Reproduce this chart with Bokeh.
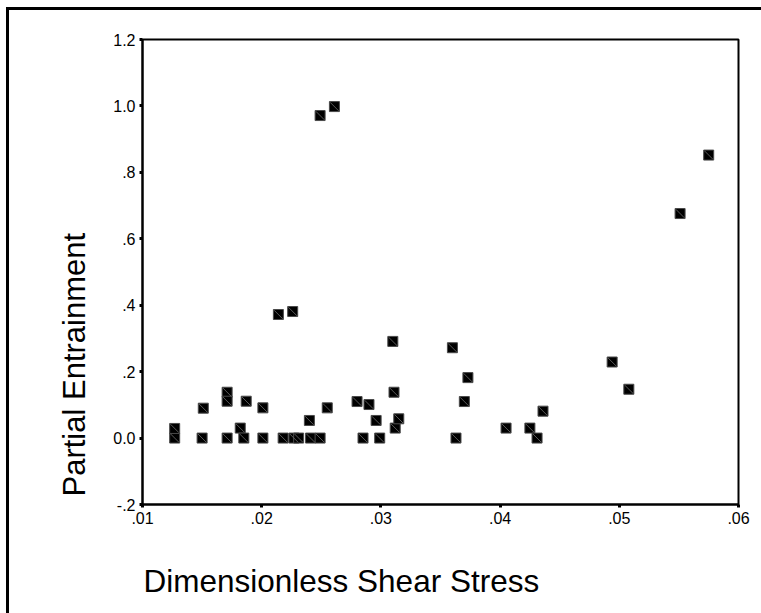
import math
from bokeh.plotting import figure
from bokeh.models import Range1d, FixedTicker, Title, ColumnDataSource
from bokeh.embed import file_html
from bokeh.resources import INLINE

# Data
shear_stress = [
    0.0127, 0.0127, 0.0151, 0.0150, 0.0171, 0.0171, 0.0171, 0.0182, 0.0185, 0.0187,
    0.0201, 0.0201, 0.0214, 0.0226, 0.0218, 0.0227, 0.0231, 0.0240, 0.0241, 0.0249,
    0.0255, 0.0249, 0.0261, 0.0280, 0.0290, 0.0285, 0.0296, 0.0299, 0.0310, 0.0311,
    0.0312, 0.0315, 0.0360, 0.0363, 0.0370, 0.0373, 0.0405, 0.0425, 0.0431, 0.0436,
    0.0494, 0.0508, 0.0551, 0.0575,
]
entrainment = [
    0.000, 0.029, 0.090, 0.000, 0.138, 0.111, 0.000, 0.030, 0.000, 0.111,
    0.091, 0.000, 0.372, 0.381, 0.000, 0.000, 0.000, 0.053, 0.000, 0.000,
    0.091, 0.971, 0.998, 0.110, 0.101, 0.000, 0.053, 0.000, 0.291, 0.138,
    0.030, 0.058, 0.272, 0.000, 0.110, 0.182, 0.030, 0.030, 0.000, 0.081,
    0.229, 0.147, 0.676, 0.852,
]

x_ticks = [0.01, 0.02, 0.03, 0.04, 0.05, 0.06]
x_tick_labels = [".01", ".02", ".03", ".04", ".05", ".06"]
y_ticks = [-0.2, 0.0, 0.2, 0.4, 0.6, 0.8, 1.0, 1.2]
y_tick_labels = ["-.2", "0.0", ".2", ".4", ".6", ".8", "1.0", "1.2"]

x_title = "Dimensionless Shear Stress"
y_title = "Partial Entrainment"

FONT = "Liberation Sans"

p = figure(
    frame_width=596, frame_height=465,
    x_range=Range1d(0.01, 0.06), y_range=Range1d(-0.2, 1.2),
    output_backend="svg", toolbar_location=None,
    min_border_left=133, min_border_right=23, min_border_top=29, min_border_bottom=100,
    background_fill_color="white", border_fill_color="white",
)
p.styles = {
    "border-top": "3px solid black",
    "border-left": "3px solid black",
    "margin-top": "7px",
    "margin-left": "6px",
}

p.grid.visible = False
p.outline_line_color = "black"
p.outline_line_width = 2
p.outline_line_alpha = 1.0

for ax, ticks, labels in ((p.xaxis[0], x_ticks, x_tick_labels), (p.yaxis[0], y_ticks, y_tick_labels)):
    ax.ticker = FixedTicker(ticks=ticks)
    ax.major_label_overrides = {t: l for t, l in zip(ticks, labels)}
    ax.axis_line_color = "black"
    ax.axis_line_width = 2
    ax.major_tick_in = 0
    ax.major_tick_out = 3
    ax.major_tick_line_width = 3
    ax.minor_tick_line_color = None
    ax.major_label_text_font = FONT
    ax.major_label_text_font_size = "16px"
    ax.major_label_text_color = "black"
    ax.major_label_standoff = 4

src = ColumnDataSource(data=dict(x=shear_stress, y=entrainment))
p.scatter("x", "y", source=src, marker="square", size=10,
          fill_color="black", line_color="#4a4a4a", line_width=1)
p.scatter("x", "y", source=src, marker="dash", size=12, angle=-math.pi / 4,
          line_color="#5a5a5a", line_width=1)

xt = Title(text=x_title, align="left", text_font=FONT, text_font_size="31.5px",
           text_font_style="normal", text_color="black", standoff=68, offset=1)
p.add_layout(xt, "below")
yt = Title(text=y_title, align="left", text_font=FONT, text_font_size="31px",
           text_font_style="normal", text_color="black", standoff=38, offset=8)
p.add_layout(yt, "left")

open("out.html", "w").write(file_html(p, INLINE))
